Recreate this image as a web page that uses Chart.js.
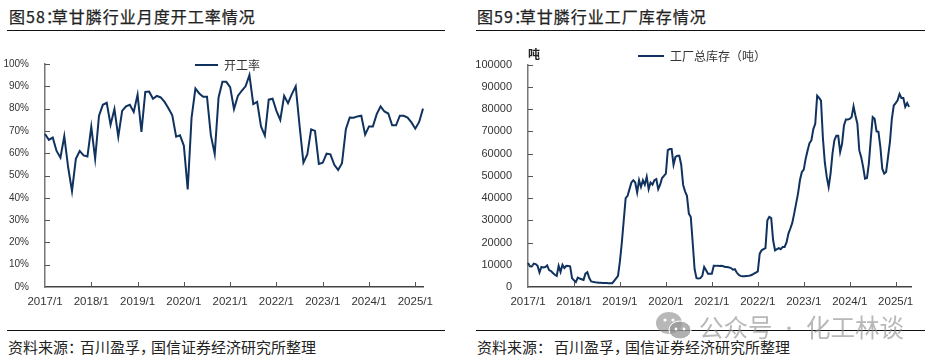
<!DOCTYPE html>
<html>
<head>
<meta charset="utf-8">
<script src="https://cdn.jsdelivr.net/npm/chart.js@4"></script>
<style>
    html, body { margin: 0; padding: 0; background: #fff; }
    body { position: relative; width: 934px; height: 364px; overflow: hidden; font-family: "Noto Sans CJK SC", sans-serif; }
    canvas { position: absolute; }
    .txt { position: absolute; white-space: nowrap; color: #222; }
    .title { font-size: 16px; letter-spacing: 1px; line-height: 20px; top: 6px; -webkit-text-stroke: 0.25px #222; }
    .title span { letter-spacing: -10px; }
    .source { font-size: 15px; line-height: 18px; top: 338px; }
    .rule { position: absolute; height: 1px; background: #111; }
    .mark { position: absolute; white-space: nowrap; color: rgba(140,140,140,0.62); font-size: 24.5px; line-height: 28px; top: 313px; }
</style>
</head>
<body>
<div class="txt title" style="left:9px">图58<span>&#xFF1A;</span>草甘膦行业月度开工率情况</div>
<div class="rule" style="left:7px;width:438px;top:30px"></div>
<canvas id="rateChart" width="460" height="270" style="left:0;top:50px;width:460px;height:270px"></canvas>
<div class="rule" style="left:7px;width:438px;top:330px"></div>
<div class="txt source" style="left:8px">资料来源<span style="letter-spacing:-3px">&#xFF1A;</span>百川盈孚<span style="letter-spacing:-4px">&#xFF0C;</span>国信证券经济研究所整理</div>

<div class="txt title" style="left:477px">图59<span>&#xFF1A;</span>草甘膦行业工厂库存情况</div>
<div class="rule" style="left:476px;width:449px;top:30px"></div>
<canvas id="stockChart" width="464" height="270" style="left:470px;top:50px;width:464px;height:270px"></canvas>
<div class="txt" style="left:528px;top:46px;font-size:12px;line-height:16px;font-weight:700">吨</div>
<div class="rule" style="left:476px;width:449px;top:330px"></div>
<div class="txt source" style="left:477px">资料来源<span style="letter-spacing:2px">&#xFF1A;</span>百川盈孚<span style="letter-spacing:-4px">&#xFF0C;</span>国信证券经济研究所整理</div>

<svg style="position:absolute;left:656px;top:311px" width="36" height="30" viewBox="0 0 36 30">
    <ellipse cx="13" cy="12" rx="13" ry="11" fill="rgba(140,140,140,0.62)"/>
    <ellipse cx="24" cy="19" rx="11" ry="9" fill="rgba(150,150,150,0.75)" stroke="#fff" stroke-width="1"/>
    <circle cx="9" cy="9" r="1.6" fill="#fff"/><circle cx="17" cy="9" r="1.6" fill="#fff"/>
    <circle cx="20" cy="18" r="1.4" fill="#fff"/><circle cx="28" cy="18" r="1.4" fill="#fff"/>
</svg>
<div class="mark" style="left:699px">公众号</div>
<div class="mark" style="left:781px;font-size:16px">·</div>
<div class="mark" style="left:806px">化工林谈</div>

<script>
const rateSeriesName = '开工率';
const stockSeriesName = '工厂总库存\uFF08吨\uFF09';
const startYear = 2017;

// 月度开工率 2017/1 - 2025/3
const rateValues = [
    68.6, 66, 67, 61, 58, 67.6, 53.7, 43, 57.5, 61, 59, 58.5,
    71.8, 57.5, 76.8, 81.7, 82.6, 72.8, 79.8, 67.4, 79, 81, 81.7, 78.5,
    86.2, 69.6, 87.5, 87.6, 84.4, 85.7, 85, 83, 80.2, 77, 67.4, 68,
    63.4, 43.8, 76, 89, 86.8, 85.3, 85.3, 68, 59.7, 85, 92, 92,
    89.6, 79.8, 85.7, 88, 90, 95, 82, 83, 72, 67.9, 84, 84.4,
    79, 74.9, 85.7, 82.4, 86.5, 90, 72.3, 55.8, 59.4, 70.7, 70, 55.2,
    55.7, 59.8, 59.5, 54.8, 52.5, 55.5, 70.8, 76, 75.9, 76.5, 76.8, 68.3,
    72, 72, 77.5, 81, 78.7, 77.8, 72.5, 72.5, 76.8, 76.8, 76, 73.8,
    71, 74, 80
];

// 工厂总库存,每年 24 个点
const stockValues = [
    10800, 9300, 9200, 10500, 10300, 9500, 6500, 9000, 8800, 9000, 9700, 7600,
    7200, 6300, 5500, 5000, 9500, 6800, 10000, 8500, 9500, 9400, 9300, 4000,
    3000, 2200, 4200, 3800, 3500, 3200, 6000, 6700, 4000, 2500, 2300, 2100,
    2000, 1900, 1900, 1800, 1800, 1800, 1700, 1700, 1700, 2800, 3900, 5000,
    11500, 20000, 30000, 40000, 41000, 44000, 47000, 48000, 47000, 42500, 48000, 45000,
    48000, 46000, 49500, 44000, 47000, 46000, 48000, 48500, 44000, 46000, 49000, 50000,
    51000, 61500, 62000, 62000, 55000, 58500, 59000, 59000, 55000, 46000, 43000, 41000,
    33000, 31500, 20000, 8000, 4000, 3800, 4000, 5000, 9000, 7500, 6000, 6000,
    6000, 9500, 9500, 9600, 9400, 9500, 9300, 9000, 9000, 8800, 8500, 7800,
    8000, 6500, 5500, 5000, 4800, 4800, 4900, 5000, 5200, 5500, 6000, 6500,
    7000, 15000, 16500, 17000, 17500, 30000, 31500, 31000, 21000, 16500, 17000, 17500,
    17000, 18000, 18000, 20000, 24000, 26300, 28800, 33000, 37500, 42000, 48000, 51700,
    52800, 57700, 61400, 64700, 66000, 71000, 73400, 86000, 85000, 83800, 67000, 56000,
    49500, 45000, 51000, 60000, 66000, 68000, 68000, 60700, 64400, 72600, 75300, 75300,
    75600, 76400, 81200, 77000, 73400, 61400, 58400, 54000, 48700, 49000, 55500, 66700,
    76400, 75600, 70000, 69800, 63000, 53200, 51000, 51700, 58400, 65200, 75600, 81600,
    82700, 83900, 86800, 85000, 85000, 81000, 82700, 81000
];

const lineColor = '#10325f';
const axisFont = 'Liberation Sans, Arial, sans-serif';

function makeLabels(perYear, count) {
    const labels = [];
    for (let i = 0; i < count; i++) {
        const year = startYear + Math.floor(i / perYear);
        const sub = i % perYear;
        labels.push(sub === 0 ? year + '/1' : year + '-' + sub);
    }
    return labels;
}

// 刻度朝内画,Chart.js 默认是朝外
const inwardTicks = {
    id: 'inwardTicks',
    afterDatasetsDraw(chart) {
        const ctx = chart.ctx;
        const x = chart.scales.x, y = chart.scales.y;
        ctx.save();
        ctx.lineWidth = 1;
        ctx.strokeStyle = '#555';
        x.ticks.forEach((t, i) => {
            if (i === 0) return;
            const px = Math.round(x.getPixelForValue(t.value)) + 0.5;
            ctx.beginPath();
            ctx.moveTo(px, y.bottom);
            ctx.lineTo(px, y.bottom - 5);
            ctx.stroke();
        });
        y.ticks.forEach(t => {
            if (t.value === 0) return;
            const py = Math.round(y.getPixelForValue(t.value)) + 0.5;
            ctx.beginPath();
            ctx.moveTo(x.left, py);
            ctx.lineTo(x.left + 5, py);
            ctx.stroke();
        });
        ctx.restore();
    }
};

// 图例放在绝对位置
const placeLegend = {
    id: 'placeLegend',
    beforeDraw(chart, args, opts) {
        const lg = chart.legend;
        const w = lg.right - lg.left;
        lg.left = opts.x;
        lg.right = opts.x + w;
        lg.top = opts.y;
    }
};

function buildChart(id, cfg) {
    return new Chart(document.getElementById(id).getContext('2d'), {
        type: 'line',
        plugins: [inwardTicks, placeLegend],
        data: {
            labels: cfg.labels,
            datasets: [{
                label: cfg.name,
                data: cfg.values,
                borderColor: lineColor,
                backgroundColor: lineColor,
                borderWidth: 2,
                pointRadius: 0,
                tension: 0
            }]
        },
        options: {
            responsive: false,
            animation: false,
            layout: { padding: cfg.padding },
            plugins: {
                tooltip: { enabled: false },
                placeLegend: cfg.legendAt,
                legend: {
                    position: 'chartArea',
                    align: 'start',
                    labels: {
                        boxWidth: cfg.legendBox,
                        boxHeight: 0,
                        padding: 0,
                        color: '#333',
                        font: { family: '"Noto Sans CJK SC"', size: 12 }
                    }
                }
            },
            scales: {
                x: {
                    type: 'category',
                    offset: false,
                    afterBuildTicks(scale) {
                        scale.ticks = scale.ticks.filter(t => t.value % cfg.perYear === 0);
                    },
                    afterFit(scale) { scale.height = 22; },
                    grid: { display: true, drawOnChartArea: false, drawTicks: false },
                    border: { color: '#444', width: 1.5 },
                    ticks: {
                        autoSkip: false,
                        maxRotation: 0,
                        padding: 8,
                        color: '#333',
                        font: { family: axisFont, size: 11.5 },
                        callback(value) { return this.getLabelForValue(value); }
                    }
                },
                y: {
                    min: 0,
                    max: cfg.max,
                    afterFit(scale) { scale.width = cfg.axisWidth; },
                    grid: { display: false },
                    border: { color: '#777', width: 1.5 },
                    ticks: {
                        stepSize: cfg.step,
                        padding: 8,
                        color: '#333',
                        font: { family: axisFont, size: cfg.yFont },
                        callback: cfg.yFormat
                    }
                }
            }
        }
    });
}

buildChart('rateChart', {
    name: rateSeriesName,
    labels: makeLabels(12, rateValues.length),
    values: rateValues,
    perYear: 12,
    max: 100,
    step: 10,
    yFont: 10,
    yFormat: v => v + '%',
    axisWidth: 45,
    padding: { left: 0, right: 37, top: 13, bottom: 11 },
    legendBox: 23,
    legendAt: { x: 195, y: 9 }
});

buildChart('stockChart', {
    name: stockSeriesName,
    labels: makeLabels(24, stockValues.length + 1),
    values: stockValues,
    perYear: 24,
    max: 100000,
    step: 10000,
    yFont: 11,
    yFormat: v => String(v),
    axisWidth: 58,
    padding: { left: 0, right: 23, top: 14, bottom: 11 },
    legendBox: 26,
    legendAt: { x: 168, y: 0 }
});
</script>
</body>
</html>
